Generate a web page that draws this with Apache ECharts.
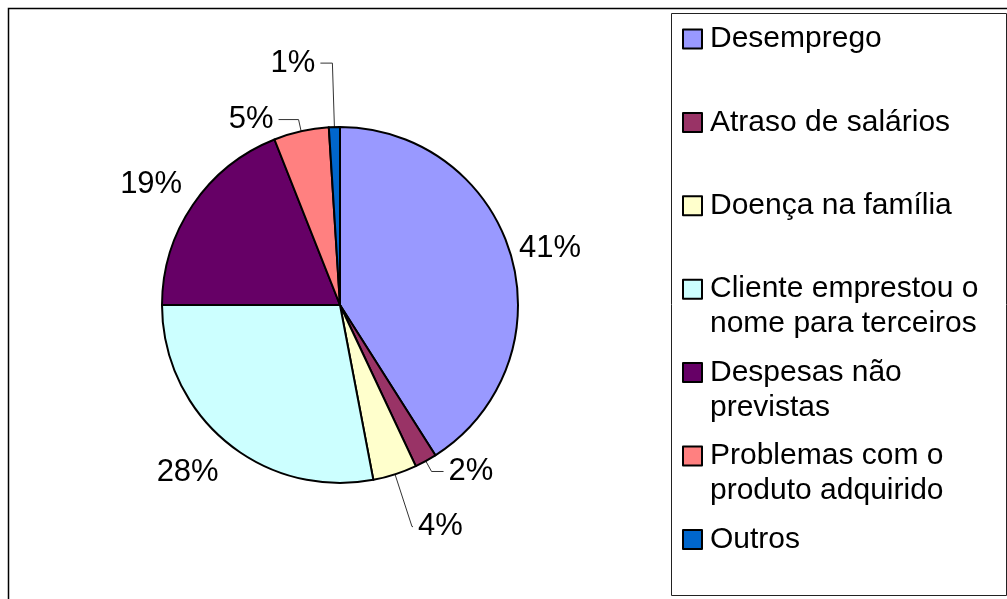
<!DOCTYPE html>
<html>
<head>
<meta charset="utf-8">
<script src="https://cdn.jsdelivr.net/npm/echarts@6/dist/echarts.min.js"></script>
<style>
  html, body { margin: 0; padding: 0; background: #fff; }
  #chart { width: 1007px; height: 599px; }
</style>
</head>
<body>
<div id="chart"></div>
<script>
// dados do gráfico
var categories = ['Desemprego', 'Atraso de salários', 'Doença na família',
    'Cliente emprestou o nome para terceiros', 'Despesas não previstas',
    'Problemas com o produto adquirido', 'Outros'];
var values = [41, 2, 4, 28, 19, 5, 1];
var legendLabels = ['Desemprego', 'Atraso de salários', 'Doença na família',
    'Cliente emprestou o\nnome para terceiros', 'Despesas não\nprevistas',
    'Problemas com o\nproduto adquirido', 'Outros'];
var colors = ['#9999FF', '#993366', '#FFFFCC', '#CCFFFF', '#660066', '#FF8080', '#0066CC'];

var fontFamily = '"Liberation Sans", Arial, sans-serif';

// linhas de chamada dos rótulos (comprimentos do labelLine)
var lineLen = [26, 12, 55, 39, 37, 12, 64];
var lineLen2 = [-22, 12, 1, -22, -25, 20, 12];
var lineShow = [false, true, true, false, false, true, true];

var chart = echarts.init(document.getElementById('chart'));

var pieData = categories.map(function (name, i) {
    return {
        name: name,
        value: values[i],
        itemStyle: { color: colors[i] },
        labelLine: {
            show: lineShow[i],
            length: lineLen[i],
            length2: lineLen2[i],
            smooth: false,
            lineStyle: { color: '#333', width: 1 }
        }
    };
});

// uma legenda por item para manter o espaçamento fixo;
// texto de duas linhas ganha uma linha vazia em cima para o ícone ficar na 1a linha
var legends = categories.map(function (name, i) {
    var twoLines = legendLabels[i].indexOf('\n') >= 0;
    var iconCenter = 39 + i * 83.4;
    return {
        orient: 'vertical',
        left: 682,
        top: iconCenter - (twoLines ? 52.5 : 17.5),
        padding: 0,
        itemWidth: 19,
        itemHeight: 19,
        icon: 'rect',
        selectedMode: false,
        data: [name],
        itemStyle: { borderColor: '#000', borderWidth: 2 },
        formatter: function () { return twoLines ? '\n' + legendLabels[i] : legendLabels[i]; },
        textStyle: {
            fontFamily: fontFamily,
            fontSize: 30,
            lineHeight: 35,
            color: '#000',
            padding: [0, 0, 0, 3]
        }
    };
});

var option = {
    backgroundColor: '#fff',
    animation: false,
    color: colors,
    graphic: [
        {
            type: 'rect', z: -1,
            shape: { x: 8.5, y: 8.5, width: 1010, height: 610 },
            style: { fill: 'none', stroke: '#000', lineWidth: 1.5 }
        },
        {
            type: 'rect', z: -1,
            shape: { x: 671.5, y: 13.5, width: 335, height: 582 },
            style: { fill: 'none', stroke: '#222', lineWidth: 1 }
        }
    ],
    legend: legends,
    series: [
        {
            type: 'pie',
            center: [340, 305],
            radius: 178,
            startAngle: 90,
            clockwise: true,
            avoidLabelOverlap: false,
            itemStyle: { borderColor: '#000', borderWidth: 2 },
            emphasis: { disabled: true },
            label: {
                show: true,
                position: 'outside',
                color: '#000',
                fontFamily: fontFamily,
                fontSize: 31,
                formatter: function (p) { return Math.round(p.percent) + '%'; }
            },
            data: pieData
        }
    ]
};

chart.setOption(option);
</script>
</body>
</html>
